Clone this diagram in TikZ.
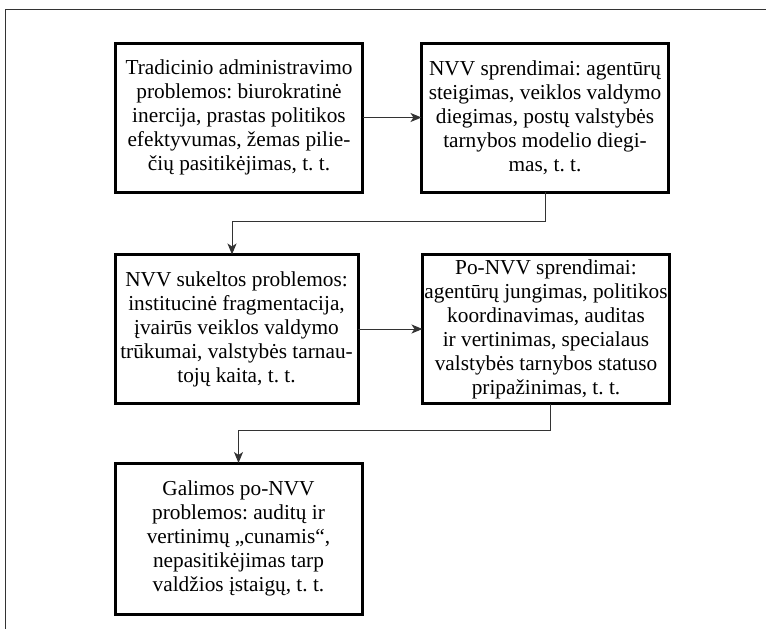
\documentclass[tikz,border=0pt]{standalone}
\usepackage{fontspec}
\setmainfont{Liberation Serif}
\frenchspacing
\usetikzlibrary{arrows.meta}
\usetikzlibrary{positioning}
\tikzset{
% Define standard arrow tip
>={Stealth[length=11pt, width=9pt, inset=3pt]},
probbox/.style={rectangle, draw=black, line width=3pt, fill=white,
  minimum width=247pt, minimum height=149pt, align=center,
  font=\fontsize{21.3}{24}\selectfont},
link/.style={draw=black!80, line width=1pt}
}
\begin{document}
\begin{tikzpicture}[x=1pt, y=-1pt, inner sep=0, outer sep=0]
  \useasboundingbox (0,0) rectangle (766,629);

  % frame
  \coordinate (fbl) at (5,629);
  \coordinate (ftl) at (5,9.5);
  \coordinate (ftr) at (766,9.5);
  \draw[black!80, line width=1pt] (fbl) -- (ftl) -- (ftr);

  % first row
  \node[probbox] (trad) at (239,117.5) {Tradicinio administravimo\\problemos: biurokratinė\\inercija, prastas politikos\\efektyvumas, žemas pilie-\\čių pasitikėjimas, t. t.};
  \node[probbox] (nvv) at (545,117.5) {NVV sprendimai: agentūrų\\steigimas, veiklos valdymo\\diegimas, postų valstybės\\tarnybos modelio diegi-\\mas, t. t.};

  % second row
  \node[probbox, minimum width=243pt] (nvvprob) at (236.5,329) {NVV sukeltos problemos:\\institucinė fragmentacija,\\įvairūs veiklos valdymo\\trūkumai, valstybės tarnau-\\tojų kaita, t. t.};
  \node[probbox] (ponvv) at (546,329) {Po-NVV sprendimai:\\agentūrų jungimas, politikos\\koordinavimas, auditas\\ir vertinimas, specialaus\\valstybės tarnybos statuso\\pripažinimas, t. t.};

  % third row
  \node[probbox, minimum height=151pt] (ponvvprob) at (238.5,538.5) {Galimos po-NVV\\problemos: auditų ir\\vertinimų „cunamis“,\\nepasitikėjimas tarp\\valdžios įstaigų, t. t.};

  \draw[link, ->] (trad) -- (nvv);
  \draw[link, ->] (nvv.south) -- ++(0,29) -| ([xshift=-4.5pt]nvvprob.north);
  \draw[link, ->] (nvvprob) -- (ponvv);
  \draw[link, ->] ([xshift=4pt]ponvv.south) -- ++(0,27) -| (ponvvprob.north);
\end{tikzpicture}
\end{document}
